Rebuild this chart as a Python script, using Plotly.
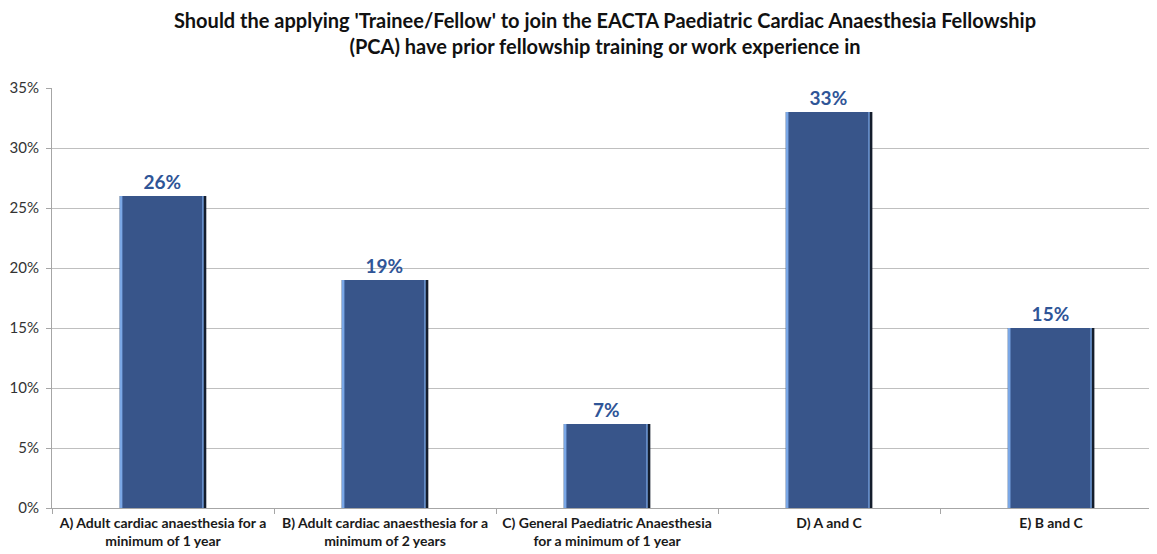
import plotly.graph_objects as go

categories = [
    "A) Adult cardiac anaesthesia for a<br>minimum of 1 year",
    "B) Adult cardiac anaesthesia for a<br>minimum of 2 years",
    "C) General Paediatric Anaesthesia<br>for a minimum of 1 year",
    "D) A and C",
    "E) B and C",
]
values = [26, 19, 7, 33, 15]
value_labels = ["26%", "19%", "7%", "33%", "15%"]
y_ticks = [0, 5, 10, 15, 20, 25, 30, 35]
y_tick_labels = ["0%", "5%", "10%", "15%", "20%", "25%", "30%", "35%"]

title_text = ("Should the applying 'Trainee/Fellow' to join the EACTA Paediatric Cardiac Anaesthesia Fellowship"
              "<br>(PCA) have prior fellowship training or work experience in")

W = 0.39
fig = go.Figure()
# dark right edge
fig.add_trace(go.Bar(x=categories, y=values, width=W, offset=-W / 2,
                     marker=dict(color="#141d2c", line=dict(width=0)), hoverinfo="skip"))
# light left edge
fig.add_trace(go.Bar(x=categories, y=values, width=W - 0.012, offset=-W / 2,
                     marker=dict(color="#7aa7e6", line=dict(width=0)), hoverinfo="skip"))
# main body
fig.add_trace(go.Bar(x=categories, y=values, width=W - 0.03, offset=-W / 2 + 0.012,
                     marker=dict(color="#38558a", line=dict(width=0)),
                     text=value_labels, textposition="outside", cliponaxis=False,
                     textfont=dict(family="Lato", size=19, color="#2f5597", weight="bold")))

fig.add_annotation(text=title_text, xref="paper", yref="paper", x=0.5, y=1.132,
                   xanchor="center", yanchor="middle", showarrow=False,
                   font=dict(family="Lato", size=20, color="#111111", weight="bold"))

fig.update_layout(
    width=1149, height=546,
    barmode="overlay",
    showlegend=False,
    plot_bgcolor="white", paper_bgcolor="white",
    margin=dict(l=44, r=0, t=80, b=46, autoexpand=False),
    font=dict(family="Lato", color="#333333"),
    xaxis=dict(range=[-0.5, 4.477], showline=True, linecolor="#a6a6a6", linewidth=1,
               ticks="outside", tickson="boundaries", ticklen=5, tickcolor="#a6a6a6",
               ticklabelstandoff=2, tickangle=0,
               tickfont=dict(family="Lato", size=14, color="#1a1a1a", weight="bold"),
               showgrid=False, automargin=False),
    yaxis=dict(range=[0, 35], tickvals=y_ticks, ticktext=y_tick_labels,
               showline=True, linecolor="#a6a6a6", linewidth=1,
               ticks="outside", ticklen=5, tickcolor="#a6a6a6", ticklabelstandoff=4,
               showgrid=True, gridcolor="#bfbfbf", gridwidth=1, automargin=False,
               tickfont=dict(family="Lato", size=15, color="#333333"), zeroline=False),
)

fig.write_html("out.html")
